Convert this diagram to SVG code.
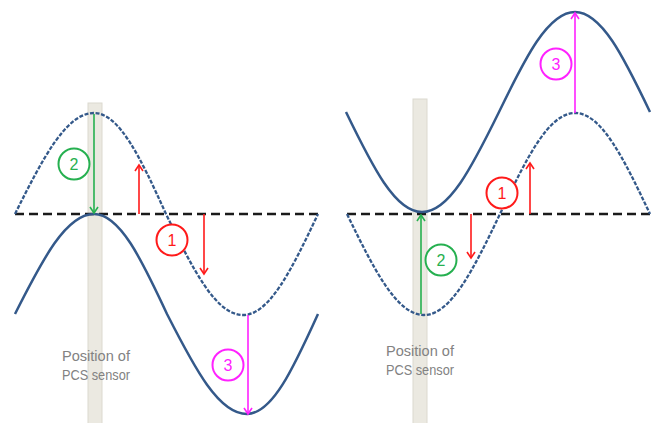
<svg xmlns="http://www.w3.org/2000/svg" width="658" height="423" viewBox="0 0 658 423">
<defs>
<style>
.bar{fill:#ebe9e1;stroke:#dcd9cf;stroke-width:1}
.axis{fill:none;stroke:#1a1a1a;stroke-width:2.5;stroke-dasharray:9 5}
.solid{fill:none;stroke:#34598a;stroke-width:2.5}
.dash{fill:none;stroke:#34598a;stroke-width:2.3;stroke-dasharray:4 1.6}
.red{stroke:#ff1a1a;stroke-width:1.6;fill:none}
.green{stroke:#26b050;stroke-width:1.6;fill:none}
.mag{stroke:#ff22ff;stroke-width:1.6;fill:none}
.lbl{font-family:"Liberation Sans",Arial,sans-serif;font-size:15.5px;fill:#828282;text-anchor:middle}
.num{font-family:"Liberation Sans",Arial,sans-serif;font-size:16px;text-anchor:middle}
</style>
<marker id="hr" markerUnits="userSpaceOnUse" markerWidth="12" markerHeight="12" refX="0" refY="0" viewBox="-8 -6 10 12" orient="auto" overflow="visible"><path d="M-6,-4 L0,0 L-6,4" fill="none" stroke="#ff1a1a" stroke-width="1.6"/></marker>
<marker id="hg" markerUnits="userSpaceOnUse" markerWidth="12" markerHeight="12" refX="0" refY="0" viewBox="-8 -6 10 12" orient="auto" overflow="visible"><path d="M-6,-4 L0,0 L-6,4" fill="none" stroke="#26b050" stroke-width="1.6"/></marker>
<marker id="hm" markerUnits="userSpaceOnUse" markerWidth="12" markerHeight="12" refX="0" refY="0" viewBox="-8 -6 10 12" orient="auto" overflow="visible"><path d="M-6,-4 L0,0 L-6,4" fill="none" stroke="#ff22ff" stroke-width="1.6"/></marker>
</defs>
<rect width="658" height="423" fill="#ffffff"/>

<g id="left-panel">
  <g id="left-sensor">
    <rect class="bar" x="88" y="103" width="14" height="322"/>
    <text class="lbl" x="96" y="361" textLength="68" lengthAdjust="spacingAndGlyphs">Position of</text>
    <text class="lbl" x="96" y="380" textLength="68" lengthAdjust="spacingAndGlyphs">PCS sensor</text>
  </g>
  <line class="axis" x1="15" y1="214" x2="318" y2="214"/>
  <path id="left-dashed-wave" class="dash" d="M15,214 C42.8,158.2 66.2,113 94,113 C119.3,113 140.7,158.2 166,214 C193.1,269.8 215.9,315 243,315 C269.4,315 291.6,269.8 318,214"/>
  <path id="left-solid-wave" class="solid" d="M15,314 C42.8,258.8 66.2,214 94,214 C119.7,214 141.3,258.8 167,314 C195.1,369.2 218.9,414 247,414 C272,414 293,369.2 318,314"/>
</g>

<g id="right-panel">
  <g id="right-sensor">
    <rect class="bar" x="413" y="99" width="14" height="326"/>
    <text class="lbl" x="420" y="356" textLength="68" lengthAdjust="spacingAndGlyphs">Position of</text>
    <text class="lbl" x="420" y="375" textLength="68" lengthAdjust="spacingAndGlyphs">PCS sensor</text>
  </g>
  <line class="axis" x1="347" y1="214" x2="650" y2="214"/>
  <path id="right-dashed-wave" class="dash" d="M347,214 C374.1,269.8 396.9,315 424,315 C450.7,315 473.3,269.8 500,214 C526.4,158.2 548.6,113 575,113 C601.4,113 623.6,158.2 650,214"/>
  <path id="right-solid-wave" class="solid" d="M346,112 C372.7,167.2 395.3,212 422,212 C449.1,212 471.9,167.2 499,112 C525.7,56.8 548.3,12 575,12 C601.4,12 623.6,56.8 650,112"/>
</g>

<g id="connectors">
  <line class="green" x1="94" y1="114" x2="94" y2="213" marker-end="url(#hg)"/>
  <line class="red" x1="139" y1="214" x2="139" y2="165" marker-end="url(#hr)"/>
  <line class="red" x1="204" y1="214" x2="204" y2="274" marker-end="url(#hr)"/>
  <line class="mag" x1="248" y1="315" x2="248" y2="414" marker-end="url(#hm)"/>
  <line class="green" x1="421" y1="314" x2="421" y2="215" marker-end="url(#hg)"/>
  <line class="red" x1="471" y1="214" x2="471" y2="258" marker-end="url(#hr)"/>
  <line class="red" x1="530" y1="214" x2="530" y2="163" marker-end="url(#hr)"/>
  <line class="mag" x1="575" y1="113" x2="575" y2="13" marker-end="url(#hm)"/>
</g>

<g id="label-2-left">
  <circle cx="74" cy="164" r="15.5" fill="#fff" stroke="#26b050" stroke-width="2"/>
  <text class="num" x="74" y="170" fill="#26b050">2</text>
</g>
<g id="label-1-left">
  <circle cx="172" cy="240" r="15.5" fill="#fff" stroke="#ff1a1a" stroke-width="2"/>
  <text class="num" x="172" y="246" fill="#ff1a1a">1</text>
</g>
<g id="label-3-left">
  <circle cx="228" cy="365" r="15.5" fill="#fff" stroke="#ff22ff" stroke-width="2"/>
  <text class="num" x="228" y="371" fill="#ff22ff">3</text>
</g>
<g id="label-2-right">
  <circle cx="441" cy="260" r="15.5" fill="#fff" stroke="#26b050" stroke-width="2"/>
  <text class="num" x="441" y="266" fill="#26b050">2</text>
</g>
<g id="label-1-right">
  <circle cx="502" cy="193" r="15.5" fill="#fff" stroke="#ff1a1a" stroke-width="2"/>
  <text class="num" x="502" y="199" fill="#ff1a1a">1</text>
</g>
<g id="label-3-right">
  <circle cx="556" cy="64" r="15.5" fill="#fff" stroke="#ff22ff" stroke-width="2"/>
  <text class="num" x="556" y="70" fill="#ff22ff">3</text>
</g>
</svg>
